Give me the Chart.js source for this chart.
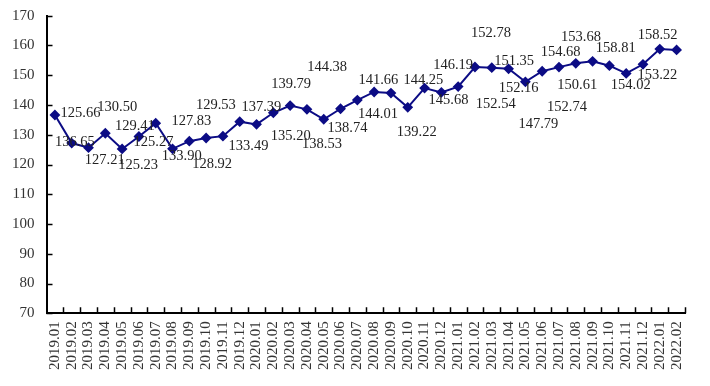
<!DOCTYPE html>
<html>
<head>
<meta charset="utf-8">
<script src="https://cdn.jsdelivr.net/npm/chart.js@4.4.1/dist/chart.umd.min.js"></script>
<style>
  html, body { margin: 0; padding: 0; background: #fff; }
  #wrap { width: 710px; height: 386px; }
</style>
</head>
<body>
<div id="wrap"><canvas id="priceChart" width="710" height="386"></canvas></div>
<script>
const months = ['2019.01','2019.02','2019.03','2019.04','2019.05','2019.06','2019.07','2019.08','2019.09','2019.10','2019.11','2019.12',
  '2020.01','2020.02','2020.03','2020.04','2020.05','2020.06','2020.07','2020.08','2020.09','2020.10','2020.11','2020.12',
  '2021.01','2021.02','2021.03','2021.04','2021.05','2021.06','2021.07','2021.08','2021.09','2021.10','2021.11','2021.12',
  '2022.01','2022.02'];
const values = [136.65, 127.21, 125.66, 130.50, 125.23, 129.41, 133.90, 125.27, 127.83, 128.92, 129.53, 134.40,
  133.49, 137.39, 139.79, 138.53, 135.20, 138.74, 141.66, 144.38, 144.01, 139.22, 145.68, 144.25,
  146.19, 152.78, 152.54, 152.16, 147.79, 151.35, 152.74, 154.02, 154.68, 153.22, 150.61, 153.68,
  158.81, 158.52];
// label text per point (null = no label shown)
const pointLabels = ['136.65','127.21','125.66','130.50','125.23','129.41','133.90','125.27','127.83','128.92','129.53', null,
  '133.49','137.39','139.79','138.53','135.20','138.74','141.66','144.38','144.01','139.22','145.68','144.25',
  '146.19','152.78','152.54','152.16','147.79','151.35','152.74','154.02','154.68','153.22','150.61','153.68',
  '158.81','158.52'];
const yTicks = [70, 80, 90, 100, 110, 120, 130, 140, 150, 160, 170];

// where each label sits relative to its point (px)
const labelShift = [[20,27],[33,17],[-8,-34],[12,-26],[16,16],[-4,-10],[26,33],[-19,-7],[2,-20],[6,26],[-7,-31],[0,0],
  [-8,22],[-12,-6],[1,-21],[15,35],[-33,17],[7,19],[21,-20],[-47,-25],[-13,21],[9,25],[24,12],[-18,-12],
  [-5,-21],[16,-34],[4,36],[10,19],[13,42],[-28,-10],[8,40],[55,22],[-32,-9],[48,10],[-49,12],[-62,-27],
  [-44,-1],[-19,-15]];

const textFont = '"Liberation Serif", "DejaVu Serif", serif';

const spacingPlugin = {
  id: 'spacing',
  beforeInit(chart) { chart.ctx.letterSpacing = '0.7px'; }
};

const innerTicks = {
  id: 'innerTicks',
  afterDraw(chart) {
    const ctx = chart.ctx;
    const a = chart.chartArea;
    const yScale = chart.scales.y;
    ctx.save();
    ctx.strokeStyle = '#000';
    ctx.lineWidth = 1.5;
    ctx.beginPath();
    yTicks.forEach(t => {
      const y = Math.round(yScale.getPixelForValue(t)) + 0.5;
      ctx.moveTo(a.left, y);
      ctx.lineTo(a.left + 6, y);
    });
    const band = (a.right - a.left) / months.length;
    for (let k = 1; k <= months.length; k++) {
      const x = Math.round(a.left + k * band) + 0.5;
      ctx.moveTo(x, a.bottom);
      ctx.lineTo(x, a.bottom - 6);
    }
    ctx.stroke();
    ctx.restore();
  }
};

const valueLabels = {
  id: 'valueLabels',
  afterDatasetsDraw(chart) {
    const ctx = chart.ctx;
    const meta = chart.getDatasetMeta(0);
    ctx.save();
    ctx.font = '14.5px ' + textFont;
    ctx.fillStyle = '#222';
    ctx.textAlign = 'center';
    ctx.textBaseline = 'middle';
    meta.data.forEach((pt, i) => {
      if (pointLabels[i] == null) return;
      ctx.fillText(pointLabels[i], pt.x + labelShift[i][0], pt.y + labelShift[i][1]);
    });
    ctx.restore();
  }
};

new Chart(document.getElementById('priceChart'), {
  type: 'line',
  data: {
    labels: months,
    datasets: [{
      data: values,
      borderColor: '#0c0c85',
      backgroundColor: '#0c0c85',
      borderWidth: 2,
      pointStyle: 'rectRot',
      pointRadius: 4,
      pointHoverRadius: 4,
      tension: 0
    }]
  },
  options: {
    responsive: false,
    animation: false,
    events: [],
    layout: { autoPadding: false, padding: { top: 10, right: 25, bottom: 8, left: 0 } },
    plugins: { legend: { display: false }, tooltip: { enabled: false } },
    scales: {
      x: {
        offset: true,
        grid: { display: false, drawTicks: false },
        border: { display: true, color: '#000', width: 2 },
        ticks: {
          autoSkip: false, minRotation: 90, maxRotation: 90, padding: 8,
          color: '#333', font: { family: textFont, size: 15 }
        }
      },
      y: {
        min: 70, max: 170,
        afterBuildTicks(scale) { scale.ticks = yTicks.map(v => ({ value: v })); },
        grid: { display: false, drawTicks: false },
        border: { display: true, color: '#000', width: 2 },
        ticks: { padding: 12, color: '#333', font: { family: textFont, size: 15, lineHeight: 0.5 } }
      }
    }
  },
  plugins: [spacingPlugin, innerTicks, valueLabels]
});
</script>
</body>
</html>
